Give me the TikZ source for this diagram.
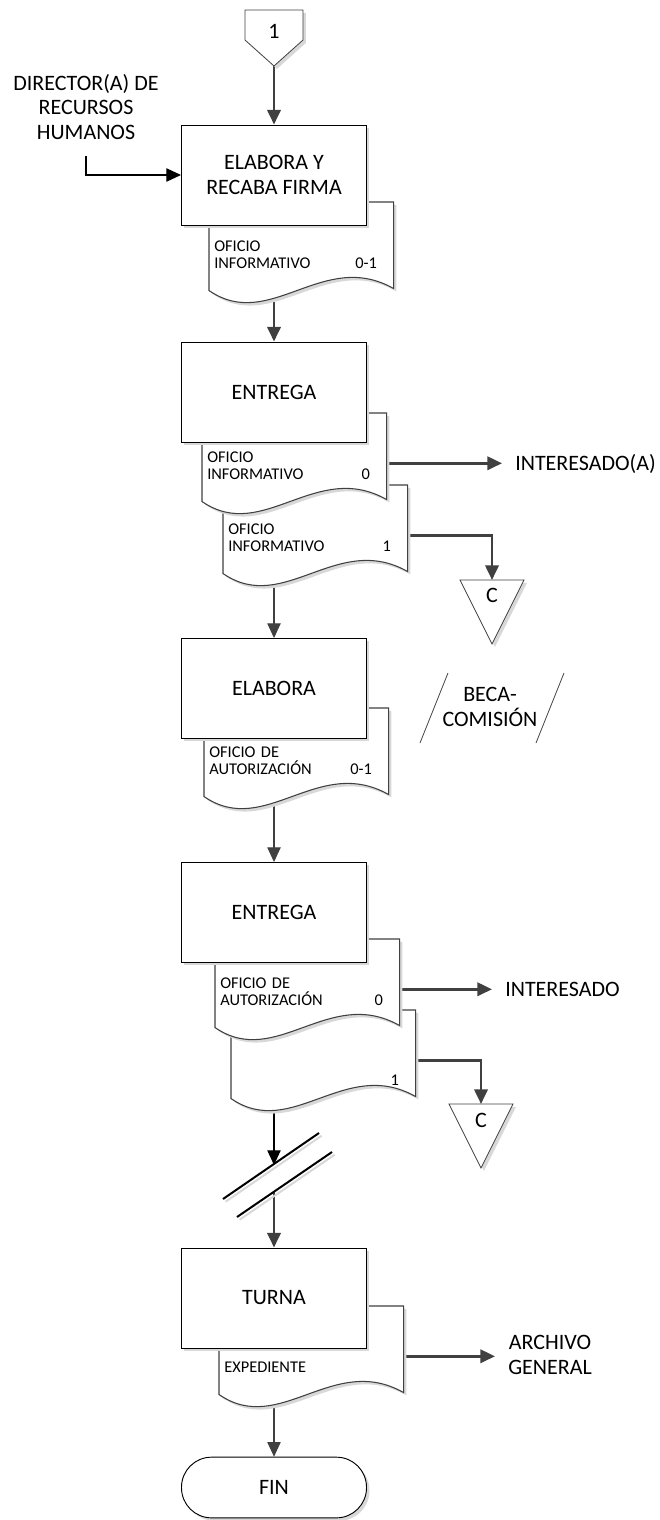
\documentclass[tikz,border=0pt]{standalone}
\usepackage{fontspec}
\setmainfont{Carlito}
\usepackage{tikz}
\usetikzlibrary{arrows.meta, positioning, calc, shadows}
\definecolor{mygray}{RGB}{64,64,64}
\definecolor{myshade}{RGB}{216,216,216}
\pgfdeclarelayer{back}
\pgfsetlayers{back,main}
\newcommand{\bigtxt}{\fontsize{16.5}{18.5}\selectfont}
\newcommand{\smalltxt}{\fontsize{12.3}{12.75}\selectfont}
\newcommand{\pushright}{\hskip 0pt plus 1filll\relax}
\newcommand{\docline}[1]{%
  \draw[docshape] (#1.north west) -- (#1.north east) -- ($(#1.south east)+(0,-14)$)
    .. controls ($(#1.south west)+(114,-54)$) and ($(#1.south west)+(61,30)$)
    .. ($(#1.south west)+(0,-12)$) -- cycle;}
\tikzset{
  boxshadow/.style={drop shadow={shadow xshift=2.2pt, shadow yshift=-2.2pt,
    fill=myshade, opacity=1}},
  procbox/.style={rectangle, draw=black, fill=white, line width=0.7pt,
    minimum width=138.75pt, minimum height=75pt, align=center,
    font=\bigtxt, boxshadow},
  endbox/.style={rectangle, draw=black, fill=white, line width=0.7pt,
    rounded corners=22.5pt, minimum width=138.75pt, minimum height=45.5pt,
    font=\bigtxt, boxshadow},
  docnode/.style={rectangle, inner sep=0pt, minimum width=138pt,
    minimum height=75pt, anchor=north west},
  docshape/.style={draw=mygray, fill=white, line width=0.8pt, boxshadow},
  doclbl/.style={font=\smalltxt, text width=122pt, align=left,
    inner sep=0pt, anchor=west},
  symline/.style={draw=mygray, fill=white, line width=0.6pt, boxshadow},
  lbl/.style={font=\bigtxt, align=center, inner xsep=9.75pt, anchor=west},
  thickarrow/.style={-{Triangle[length=11pt,width=10pt]}, line width=2pt, color=mygray},
  thinarrow/.style={-{Triangle[length=11pt,width=10pt]}, line width=0.8pt, color=mygray},
  brkline/.style={line width=1.5pt, color=black}
}

\begin{document}
\begin{tikzpicture}[x=0.75pt, y=-0.75pt]
  \useasboundingbox (0,0) rectangle (660,1520);
  % conector de entrada
  \draw[symline] (245,10) -- (303,10) -- (303,40) -- (274,66) -- (245,40) -- cycle;
  \node[font=\bigtxt] (p1) at (274,31) {1};
  \coordinate (p1tip) at (274,66);
  \node[font=\bigtxt, align=center, inner ysep=12pt] (dir) at (86,107)
    {DIRECTOR(A) DE\\RECURSOS\\HUMANOS};

  % documentos
  \foreach \nm/\xx/\yy/\txt in {
      d1/209/202/{OFICIO\\INFORMATIVO\pushright 0-1},
      d2b/223/485/{OFICIO\\INFORMATIVO\pushright 1},
      d2a/202/413/{OFICIO\\INFORMATIVO\pushright 0},
      d3/204/708/{OFICIO DE\\AUTORIZACIÓN\pushright 0-1},
      d4b/231/1010/{\vphantom{O}\\\null\pushright 1},
      d4a/215/939/{OFICIO DE\\AUTORIZACIÓN\pushright 0},
      d5/219/1306/{\vphantom{O}\\EXPEDIENTE}} {
    \node[docnode] (\nm) at (\xx,\yy) {};
    \docline{\nm}
    \node[doclbl] (\nm-t) at ($(\nm.west)+(5,2.5)$) {\txt};
  }

  % actividades
  \node[procbox] (b1) at (274,175) {ELABORA Y\\RECABA FIRMA};
  \node[procbox] (b2) at (274,392) {ENTREGA};
  \node[procbox] (b3) at (274,688.5) {ELABORA};
  \node[procbox] (b4) at (274,912.5) {ENTREGA};
  \node[procbox] (b5) at (274,1298) {TURNA};
  \node[endbox] (fin) at (274,1487.5) {FIN};

  % conectores fuera de pagina
  \coordinate (t1) at (492,580);
  \draw[symline] (t1) -- ++(32,0) -- ++(-32,64) -- ++(-32,-64) -- cycle;
  \node[font=\bigtxt] (c1) at ($(t1)+(0,15)$) {C};
  \coordinate (t2) at (481,1104);
  \draw[symline] (t2) -- ++(32,0) -- ++(-32,64) -- ++(-32,-64) -- cycle;
  \node[font=\bigtxt] (c2) at ($(t2)+(0,16)$) {C};

  \draw[mygray, line width=0.6pt] (420,743) -- (448,673);
  \draw[mygray, line width=0.6pt] (536,743) -- (564,673);
  \node[font=\bigtxt, align=center] (beca) at (490,707) {BECA-\\COMISIÓN};

  \node[lbl] (int1) at (502,464) {INTERESADO(A)};
  \node[lbl] (int2) at (492,989) {INTERESADO};
  \node[lbl] (arch) at (495,1355) {ARCHIVO\\GENERAL};

  % corte
  \draw[brkline, myshade, xshift=2pt, yshift=-2pt] (223,1199) -- (319,1133);
  \draw[brkline, myshade, xshift=2pt, yshift=-2pt] (237,1217) -- (332,1152);
  \draw[brkline] (223,1199) -- (319,1133);
  \draw[brkline] (237,1217) -- (332,1152);
  \coordinate (k1) at (274,1165);
  \coordinate (k2) at (274,1191);

  \begin{pgfonlayer}{back}
    \draw[thickarrow] (p1tip) -- (b1);
    \draw[thinarrow, black] (dir.south) |- (b1.west);
    \draw[thickarrow] (b1) -- (b2);
    \draw[thinarrow] (b2) -- (b3);
    \draw[thinarrow] (b3) -- (b4);
    \draw[thinarrow, black] (b4) -- (k1);
    \draw[thickarrow] (k2) -- (b5);
    \draw[thinarrow] (b5) -- (fin);
    \draw[thickarrow] (d2a.east) -- (d2a.east -| int1.west);
    \draw[thickarrow] (d2b.east) -| (t1);
    \draw[thickarrow] (d4a.east) -- (d4a.east -| int2.west);
    \draw[thickarrow] (d4b.east) -| (t2);
    \draw[thickarrow] (d5.east) -- (d5.east -| arch.west);
  \end{pgfonlayer}
\end{tikzpicture}
\end{document}
